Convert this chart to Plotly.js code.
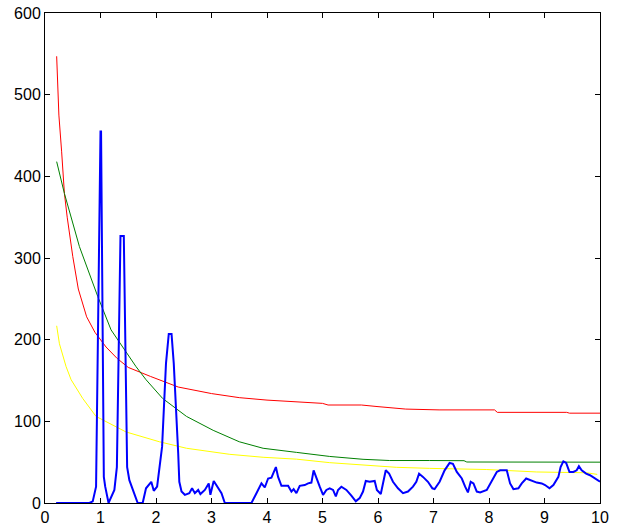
<!DOCTYPE html>
<html>
<head>
<meta charset="utf-8">
<script src="https://cdn.plot.ly/plotly-3.0.1.min.js"></script>
<style>html,body{margin:0;padding:0;background:#fff;}#chart{width:621px;height:531px;}</style>
</head>
<body>
<div id="chart"></div>
<script>
// Red curve
const redX = [0.21,0.25,0.3,0.35,0.4,0.5,0.6,0.75,0.9,1.1,1.3,1.5,1.9,2.4,3.0,3.5,4.0,4.5,5.0,5.1,5.7,6.0,6.5,7.1,8.1,8.15,9.4,9.45,10];
const redY = [547,475,430,379,350,302,262,228,209,191,177,166,155,142,134,129,126,124,122,120,120,118,115,114,114,111,111,110,110];
// Green curve
const greenX = [0.21,0.35,0.62,0.95,1.19,1.64,1.82,2.12,2.55,3.03,3.5,3.93,4.53,5.13,5.73,6.21,6.93,7.55,7.6,10];
const greenY = [418,379,314,253,212,167,151,128,106,89,75,67,62,57,53.5,52,52,51.8,50.2,50];
// Yellow curve
const yellowX = [0.21,0.26,0.38,0.47,0.68,0.92,1.46,2.06,2.55,3.33,3.93,4.53,5.13,5.73,6.33,6.93,7.96,8.86,9.76,9.95];
const yellowY = [217,195,167,151,128,106,87,75,67,59.6,56,53.7,49.4,46.5,43.7,42.4,41,38,37,35];
// Blue curve
const blueX = [0.2,0.8,0.86,0.92,1.0,1.01,1.06,1.085,1.145,1.25,1.295,1.36,1.42,1.48,1.52,1.61,1.67,1.76,1.82,1.915,1.96,2.02,2.11,2.18,2.23,2.28,2.32,2.40,2.42,2.46,2.52,2.6,2.65,2.70,2.76,2.80,2.88,2.95,2.98,3.04,3.10,3.18,3.24,3.72,3.81,3.90,3.96,4.02,4.08,4.16,4.20,4.26,4.38,4.44,4.48,4.53,4.59,4.68,4.74,4.80,4.84,4.89,4.95,5.01,5.07,5.13,5.19,5.24,5.28,5.34,5.43,5.52,5.60,5.67,5.73,5.78,5.85,5.94,5.98,6.05,6.09,6.14,6.20,6.27,6.36,6.45,6.54,6.63,6.69,6.74,6.81,6.90,6.98,7.02,7.11,7.20,7.29,7.35,7.42,7.51,7.57,7.62,7.67,7.72,7.78,7.84,7.96,8.05,8.14,8.20,8.32,8.38,8.44,8.53,8.59,8.67,8.77,8.86,8.95,9.01,9.09,9.16,9.25,9.29,9.34,9.39,9.45,9.52,9.58,9.62,9.67,9.75,9.82,9.91,10];
const blueY = [0,0,2,20,455,455,32,20,0,16,44,327,327,44,28,12,0,0,18,26,15,20,69,171,207,207,171,61,26,14,10,12,18,12,16,11,16,24,10,27,20,12,0,0,12,24,19,30,31,44,32,21,21,14,17,12,21,22,24,25,40,30,20,10,16,18,16,8,16,20,16,9,2,6,14,27,26,27,16,11,26,40,36,26,18,12,14,20,26,36,32,26,18,17,26,40,49,48,38,30,20,13,26,24,14,13,16,28,38,40,40,24,17,18,24,30,27,25,24,22,18,22,32,44,51,49,38,38,40,45,40,36,34,30,26];

const xTicks = [0,1,2,3,4,5,6,7,8,9,10];
const yTicks = [0,100,200,300,400,500,600];

const traces = [
  {x: redX, y: redY, type: 'scatter', mode: 'lines', line: {color: '#ff0000', width: 1}},
  {x: greenX, y: greenY, type: 'scatter', mode: 'lines', line: {color: '#008000', width: 1}},
  {x: yellowX, y: yellowY, type: 'scatter', mode: 'lines', line: {color: '#ffff00', width: 1}},
  {x: blueX, y: blueY, type: 'scatter', mode: 'lines', line: {color: '#0000ff', width: 2}}
];

const axisCommon = {
  showgrid: false, zeroline: false, showline: true, linecolor: '#000', linewidth: 1,
  mirror: 'allticks', ticks: 'inside', ticklen: 5, tickcolor: '#000', tickwidth: 1,
  tickfont: {family: 'Liberation Sans, Arial, sans-serif', size: 16, color: '#000'},
  tickmode: 'array', layer: 'below traces'
};

const layout = {
  width: 621, height: 531,
  margin: {l: 45, r: 21, t: 13, b: 28},
  paper_bgcolor: '#fff', plot_bgcolor: '#fff',
  showlegend: false,
  xaxis: Object.assign({}, axisCommon, {range: [0, 10], tickvals: xTicks, ticktext: xTicks.map(String)}),
  yaxis: Object.assign({}, axisCommon, {range: [0, 600], tickvals: yTicks, ticktext: yTicks.map(String)})
};

Plotly.newPlot('chart', traces, layout, {staticPlot: true, displayModeBar: false});
</script>
</body>
</html>
